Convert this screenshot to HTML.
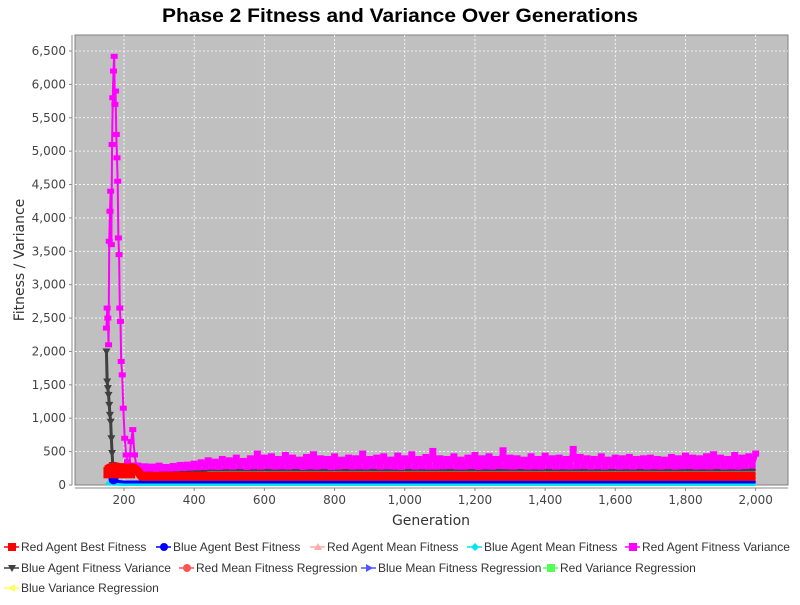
<!DOCTYPE html>
<html><head><meta charset="utf-8"><style>
body{margin:0;background:#fff;}
svg text{font-family:"DejaVu Sans","Liberation Sans",sans-serif;}
</style></head><body>
<svg id="chart" width="800" height="600" xmlns="http://www.w3.org/2000/svg">
<rect x="0" y="0" width="800" height="600" fill="#fff"/>
<text x="400" y="22" text-anchor="middle" font-size="19" font-weight="bold" fill="#000" textLength="476" lengthAdjust="spacingAndGlyphs" style="font-family:'Liberation Sans',sans-serif">Phase 2 Fitness and Variance Over Generations</text>
<rect x="75" y="35" width="713" height="450" fill="#c0c0c0" stroke="#808080" stroke-width="1"/>
<g id="grid"></g>
<g id="axes"></g>
<g id="series"></g>
<text x="24" y="260" text-anchor="middle" font-size="14" fill="#333" transform="rotate(-90 24 260)">Fitness / Variance</text>
<text x="431" y="525" text-anchor="middle" font-size="14" fill="#333">Generation</text>
<g id="legend"></g>
</svg>
<script>
const yTicks=[0,500,1000,1500,2000,2500,3000,3500,4000,4500,5000,5500,6000,6500];
const xTicks=[200,400,600,800,1000,1200,1400,1600,1800,2000];
// spike phase, gens 150-240
const spikeGens=[150,152,154,156,158,160,162,164,166,168,170,172,174,176,178,180,182,184,186,188,190,192,195,198,202,206,210,215,220,225,230,235];
const spikeRedVar=[2350,2650,2500,2100,3650,4100,4400,3600,5100,5800,6200,6420,5700,5900,5250,4900,4550,3700,3450,2650,2450,1850,1650,1150,700,450,350,300,650,830,450,300];
const spikeBlueVar=[2000,1550,1450,1350,1200,1050,950,700,480,300,250,230,220,215,215,210,210,210,212,214,215,215,215,215,215,215,215,215,215,220,220,220];
// steady phase, gens 240..2000 step 10
const steadyGens=[];for(let g=240;g<=2000;g+=10)steadyGens.push(g);
const steadyRedVar=[290,240,280,245,275,240,290,245,270,245,285,250,300,255,305,260,320,265,340,270,
370,275,350,270,390,280,370,275,410,285,360,270,400,280,470,275,410,285,430,275,
390,280,450,275,410,285,380,270,420,280,460,275,400,285,390,270,430,275,380,285,
410,275,400,280,470,275,390,285,410,275,430,280,380,275,440,270,400,285,460,275,
390,280,420,275,510,275,400,280,390,285,430,275,380,275,410,285,450,270,400,280,
430,275,390,285,520,280,410,275,400,285,380,275,430,280,390,275,440,285,400,275,
410,280,390,275,540,280,420,285,400,275,390,280,430,275,380,285,410,275,400,280,
420,275,390,285,400,275,410,280,390,275,380,285,420,275,400,280,440,285,410,275,
400,280,430,275,460,285,410,275,390,280,450,275,410,285,430,290,470];
const steadyBlueVar=[];for(let i=0;i<steadyGens.length;i++)steadyBlueVar.push(i<20?215:225);
const redBestGens=[150,160,170,180,190,200,210,220,230,240,250,300,400,600,800,1000,1200,1400,1600,1800,2000];
const redBestVals=[230,260,270,270,260,260,250,260,250,200,130,130,130,130,130,130,130,130,130,130,130];
const blueBestGens=[165,170,175,180,200,400,800,1200,1600,2000];
const blueBestVals=[70,90,80,55,45,45,45,45,45,45];
const blueMeanGens=[150,155,200,600,1000,1400,1800,2000];
const blueMeanVals=[40,20,15,15,15,15,15,15];

const NS="http://www.w3.org/2000/svg";
const X0=75,X1=788,Y0=485,Y1=35;
const xs=g=>124+(g-200)*0.35094;
const ys=v=>485-v*0.066769;
function el(t,a,p){const e=document.createElementNS(NS,t);for(const k in a)e.setAttribute(k,a[k]);p.appendChild(e);return e;}
const grid=document.getElementById('grid'),axes=document.getElementById('axes'),ser=document.getElementById('series'),leg=document.getElementById('legend');
yTicks.forEach(v=>{
 if(v>0){const l=el('line',{x1:X0,x2:X1,y1:ys(v),y2:ys(v),stroke:'#fff','stroke-dasharray':'2,2','stroke-width':0.8},grid);
 
 }
 const t=el('text',{x:66,y:ys(v)+4,'text-anchor':'end','font-size':12,fill:'#444'},axes);t.textContent=v.toLocaleString('en-US');
 
 
 el('line',{x1:69,x2:72,y1:ys(v),y2:ys(v),stroke:'#888'},axes);
});
xTicks.forEach(v=>{
 const l=el('line',{x1:xs(v),x2:xs(v),y1:Y1,y2:Y0,stroke:'#fff','stroke-dasharray':'2,2','stroke-width':0.8},grid);
 
 
 const t=el('text',{x:xs(v),y:504,'text-anchor':'middle','font-size':12,fill:'#444'},axes);t.textContent=v.toLocaleString('en-US');
 
 
 el('line',{x1:xs(v),x2:xs(v),y1:488,y2:491,stroke:'#888'},axes);
});
el('line',{x1:72,x2:72,y1:Y1,y2:Y0,stroke:'#888'},axes);
el('line',{x1:X0,x2:X1,y1:488,y2:488,stroke:'#888'},axes);

function line(gens,vals,color,w,name){
 const p=el('polyline',{points:gens.map((g,i)=>xs(g)+','+ys(vals[i])).join(' '),fill:'none',stroke:color,'stroke-width':w,'stroke-linejoin':'round'},ser);
 
 
}
function rects(gens,vals,color,w,h,name){
 gens.forEach((g,i)=>{const r=el('rect',{x:xs(g)-w/2,y:ys(vals[i])-h/2,width:w,height:h,fill:color},ser);
 
 });
}
function tris(gens,vals,color,name){
 gens.forEach((g,i)=>{const x=xs(g),y=ys(vals[i]);const p=el('polygon',{points:`${x-4},${y-3} ${x+4},${y-3} ${x},${y+4}`,fill:color},ser);
 
 });
}
line(blueMeanGens,blueMeanVals,'#00e5ee',4,'blue-mean-fitness-line');
line(blueBestGens,blueBestVals,'#0000ff',3,'blue-best-fitness-line');
const bb=el('circle',{cx:xs(170),cy:ys(85),r:5,fill:'#0000ff'},ser);


line(spikeGens.concat(steadyGens),spikeBlueVar.concat(steadyBlueVar),'#404040',3,'blue-variance-line');
tris(spikeGens.slice(0,11),spikeBlueVar.slice(0,11),'#404040','blue-variance-marker');
line(spikeGens,spikeRedVar,'#ff00ff',2,'red-variance-line-spike');
line(steadyGens,steadyRedVar,'#ff00ff',5,'red-variance-line');
rects(spikeGens,spikeRedVar,'#ff00ff',7,5,'red-variance-marker');
rects(steadyGens,steadyRedVar,'#ff00ff',7,6,'red-variance-marker');
line(redBestGens,redBestVals,'#ff0000',9,'red-best-fitness-line');
const rb=el('rect',{x:xs(150)-3,y:ys(270),width:xs(240)-xs(150),height:ys(100)-ys(270),fill:'#ff0000'},ser);



const items=[
 [4,547,'#ff0000','sq','Red Agent Best Fitness'],[156,547,'#0000ff','ci','Blue Agent Best Fitness'],[310,547,'#ffaaaa','tu','Red Agent Mean Fitness'],
 [467,547,'#00e5ee','di','Blue Agent Mean Fitness'],[625,547,'#ff00ff','sq','Red Agent Fitness Variance'],
 [4,568,'#404040','td','Blue Agent Fitness Variance'],[179,568,'#ff5555','ci','Red Mean Fitness Regression'],[361,568,'#5555ff','tr','Blue Mean Fitness Regression'],
 [543,568,'#55ff55','sq','Red Variance Regression'],[4,588,'#ffff55','tl','Blue Variance Regression']];
items.forEach(it=>{
 const [x,y,c,m,label]=it;
 const g=el('g',{},leg);
 
 
 el('line',{x1:x,x2:x+15,y1:y,y2:y,stroke:c,'stroke-width':1.5},g);
 const cx=x+8;
 if(m==='sq')el('rect',{x:cx-4,y:y-4,width:8,height:8,fill:c},g);
 if(m==='ci')el('circle',{cx:cx,cy:y,r:4,fill:c},g);
 if(m==='tu')el('polygon',{points:`${cx-4},${y+3} ${cx+4},${y+3} ${cx},${y-4}`,fill:c},g);
 if(m==='td')el('polygon',{points:`${cx-4},${y-3} ${cx+4},${y-3} ${cx},${y+4}`,fill:c},g);
 if(m==='tr')el('polygon',{points:`${cx-3},${y-4} ${cx-3},${y+4} ${cx+4},${y}`,fill:c},g);
 if(m==='tl')el('polygon',{points:`${cx+3},${y-4} ${cx+3},${y+4} ${cx-4},${y}`,fill:c},g);
 if(m==='di')el('polygon',{points:`${cx},${y-4} ${cx+4},${y} ${cx},${y+4} ${cx-4},${y}`,fill:c},g);
 const t=el('text',{x:x+17,y:y+4,'font-size':12,fill:'#333',style:"font-family:'Liberation Sans',sans-serif"},g);t.textContent=label;
});
</script>
</body></html>
